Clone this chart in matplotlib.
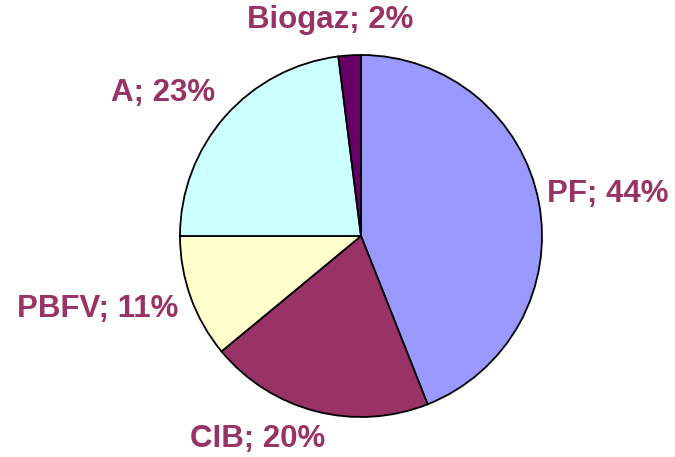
import matplotlib.pyplot as plt

labels = ["PF", "CIB", "PBFV", "A", "Biogaz"]
shares = [44, 20, 11, 23, 2]
colors = ["#9999FF", "#993366", "#FFFFCC", "#CCFFFF", "#660066"]

# label centres in figure pixels
label_px = [(608, 194), (258, 439), (98, 309), (163, 93), (330, 20)]

W, H = 675, 457
fig = plt.figure(figsize=(W / 100, H / 100), dpi=100)

cx, cy, r = 361, 236, 181
ax = fig.add_axes([(cx - r) / W, (H - cy - r) / H, 2 * r / W, 2 * r / H])
ax.pie(shares, colors=colors, startangle=90, counterclock=False,
       radius=1, wedgeprops=dict(edgecolor="black", linewidth=1.3))
ax.set_xlim(-1, 1)
ax.set_ylim(-1, 1)
ax.set_aspect("equal")
ax.axis("off")

for lab, val, (px, py) in zip(labels, shares, label_px):
    fig.text(px / W, 1 - py / H, f"{lab}; {val}%", ha="center", va="center",
             fontsize=22.5, fontweight="bold", color="#993366",
             family="Liberation Sans")

fig.savefig("out.png", dpi=100)
